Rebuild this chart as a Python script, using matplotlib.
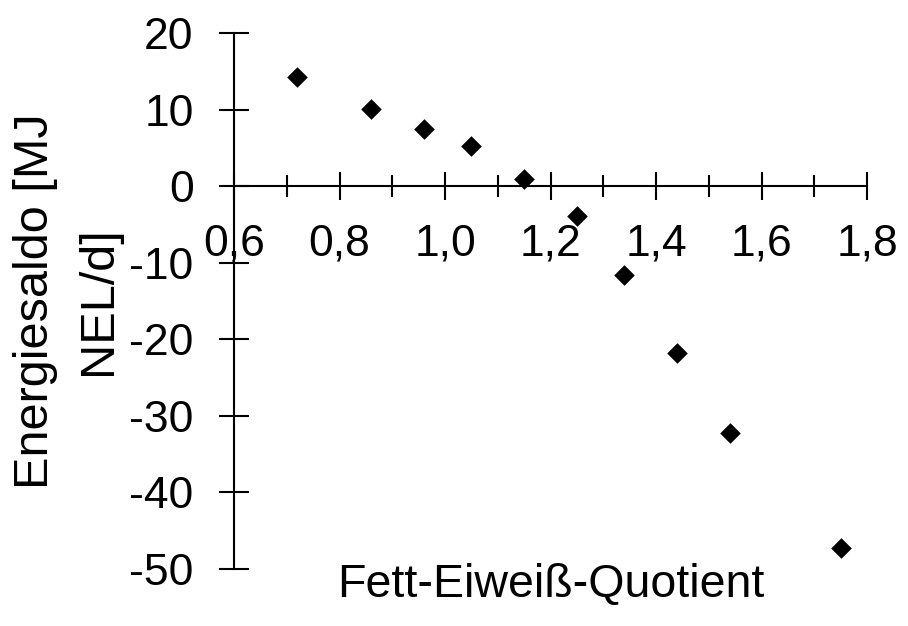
import matplotlib
matplotlib.use("Agg")
import matplotlib.pyplot as plt
from matplotlib.ticker import MultipleLocator, FuncFormatter

plt.rcParams['font.family'] = ['Liberation Sans', 'DejaVu Sans']

# Fett-Eiweiss-Quotient vs. Energiesaldo
quotient = [0.72, 0.86, 0.96, 1.05, 1.15, 1.25, 1.34, 1.44, 1.54, 1.75]
energiesaldo = [14.3, 10.1, 7.4, 5.3, 0.9, -3.9, -11.6, -21.8, -32.2, -47.2]

x_label = "Fett-Eiweiß-Quotient"
y_label = "Energiesaldo [MJ\nNEL/d]"

fig = plt.figure(figsize=(9.08, 6.26), dpi=100)
ax = fig.add_axes([234 / 908, 1 - 569 / 626, (867 - 234) / 908, (569 - 33) / 626])

ax.scatter(quotient, energiesaldo, marker='D', s=10.5 ** 2, color='black',
           linewidths=0, zorder=3, clip_on=False)

ax.set_xlim(0.6, 1.8)
ax.set_ylim(-50, 20)

# excel style axes: y axis at left, x axis crossing at 0
ax.spines['top'].set_visible(False)
ax.spines['right'].set_visible(False)
ax.spines['bottom'].set_position(('data', 0))
for s in ('left', 'bottom'):
    ax.spines[s].set_linewidth(1.5)

ax.xaxis.set_major_locator(MultipleLocator(0.2))
ax.xaxis.set_minor_locator(MultipleLocator(0.1))
ax.yaxis.set_major_locator(MultipleLocator(10))
ax.xaxis.set_major_formatter(FuncFormatter(lambda v, p: f"{v:.1f}".replace('.', ',')))
ax.yaxis.set_major_formatter(FuncFormatter(lambda v, p: f"{v:.0f}"))

ax.tick_params(axis='x', which='major', direction='inout', length=20, width=1.5,
               labelsize=32, pad=17)
ax.tick_params(axis='x', which='minor', direction='inout', length=16, width=1.5)
ax.tick_params(axis='y', which='major', direction='inout', length=22, width=1.5,
               labelsize=32, pad=18)

fig.text(67 / 908, 1 - 301 / 626, y_label, rotation=90, ha='center', va='center',
         fontsize=35, linespacing=1.5, multialignment='center')
fig.text(551 / 908, 1 - 597 / 626, x_label, ha='center', va='baseline', fontsize=33.5)

fig.savefig("out.png", dpi=100)
